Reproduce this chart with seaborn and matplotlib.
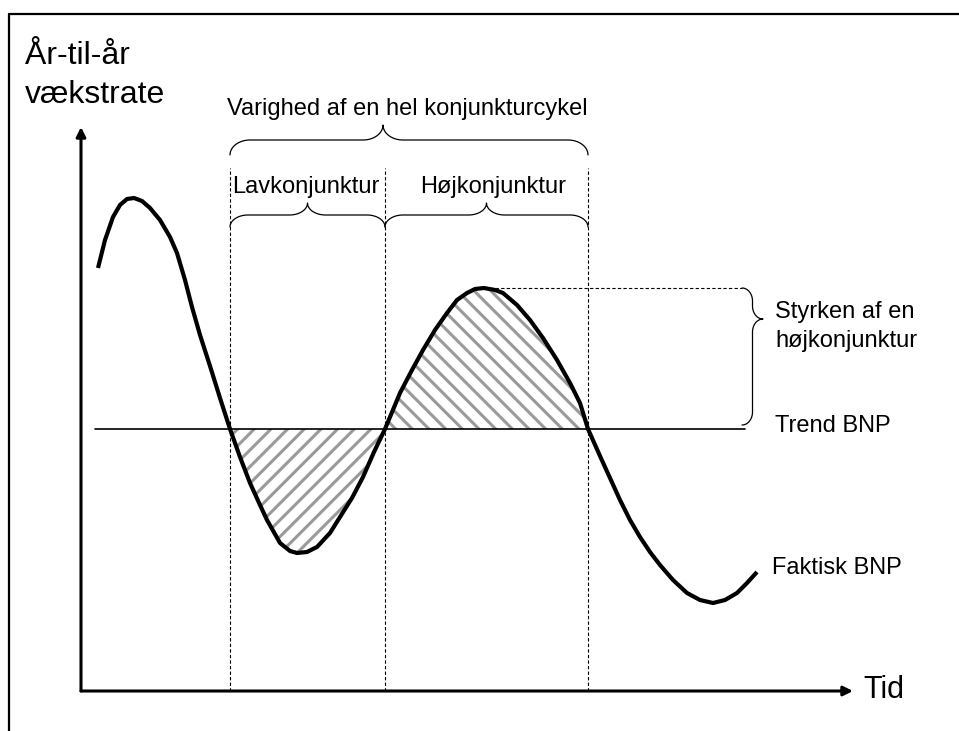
import numpy as np
import matplotlib
matplotlib.use("Agg")
import matplotlib.pyplot as plt
from matplotlib.lines import Line2D
import seaborn as sns

# Data: time (x) and year-on-year growth relative to trend (y)
tid = [1.7, 2.4, 3.2, 3.9, 4.6, 5.3, 6.1, 6.9, 7.9, 8.9, 9.6, 10.4, 11.1, 11.9,
       12.9, 13.9, 14.9, 15.9, 16.9, 17.9, 18.6, 19.9, 20.9, 21.6, 22.6, 23.6,
       24.9, 25.9, 27.1, 28.2, 29.3, 30.4, 31.9, 33.1, 34.2, 35.4, 36.6, 37.6,
       38.6, 39.4, 40.3, 41.4, 42.2, 43.6, 44.9, 46.2, 47.6, 48.9, 49.9, 50.7,
       51.9, 52.9, 53.9, 54.9, 55.9, 56.9, 57.9, 59.2, 60.6, 61.9, 63.2, 64.4,
       65.6, 66.6, 67.6]
faktisk_bnp = [16.1, 18.9, 21.2, 22.4, 23.0, 23.1, 22.8, 22.1, 20.9, 19.2, 17.6,
               14.9, 12.2, 9.4, 6.3, 3.1, 0.0, -2.8, -5.4, -7.6, -9.1, -11.4,
               -12.2, -12.4, -12.3, -11.8, -10.4, -8.8, -6.9, -4.8, -2.3, 0.0,
               3.6, 5.9, 7.9, 9.9, 11.6, 12.9, 13.6, 14.0, 14.1, 13.9, 13.6,
               12.4, 10.9, 9.1, 6.9, 4.6, 2.6, 0.0, -2.7, -4.9, -7.1, -9.1,
               -10.8, -12.3, -13.6, -15.1, -16.4, -17.1, -17.4, -17.1, -16.4,
               -15.4, -14.3]
trend_bnp = 0.0
trend_span = [1.4, 66.4]

# Turning points of the cycle (crossings with trend) and the boom peak
lav_start, lav_slut, hoj_slut = 14.9, 30.4, 50.7
top_tid, top_vaerdi = 40.3, 14.1

sns.set_theme(style="white")
plt.rcParams["font.family"] = ["Liberation Sans", "DejaVu Sans"]
plt.rcParams["text.color"] = "black"
plt.rcParams["hatch.linewidth"] = 2.2

fig = plt.figure(figsize=(9.59, 7.31), dpi=100)
ax = fig.add_axes([81 / 959, 1 - 691 / 731, 772 / 959, 564 / 731])
ax.set_xlim(0, 77.2)
ax.set_ylim(-26.2, 30.2)
ax.axis("off")

t = np.array(tid)
y = np.array(faktisk_bnp)

# Hatched areas
ax.fill_between(t, y, trend_bnp, where=(t >= lav_start) & (t <= lav_slut),
                facecolor="none", edgecolor="#9a9a9a", hatch="//", linewidth=0)
ax.fill_between(t, y, trend_bnp, where=(t >= lav_slut) & (t <= hoj_slut),
                facecolor="none", edgecolor="#9a9a9a", hatch="\\\\", linewidth=0)

# Trend line and actual GDP
ax.plot(trend_span, [trend_bnp, trend_bnp], color="black", lw=1.2)
sns.lineplot(x=tid, y=faktisk_bnp, color="black", lw=3, ax=ax,
             solid_joinstyle="round", solid_capstyle="butt")

# Dashed guides
ax.vlines([lav_start, lav_slut, hoj_slut], -26.2, 26.1, colors="black",
          linestyles=(0, (3, 2)), lw=0.8)
ax.plot([top_tid, 66.1], [top_vaerdi, top_vaerdi], color="black",
        ls=(0, (3, 2)), lw=0.8)

# Axes arrows
arrow = dict(arrowstyle="-|>", color="black", lw=2.2, mutation_scale=14,
             shrinkA=0, shrinkB=0)
ax.annotate("", xy=(0, 1), xytext=(0, 0), xycoords="axes fraction",
            textcoords="axes fraction", arrowprops=arrow)
ax.annotate("", xy=(1, 0), xytext=(0, 0), xycoords="axes fraction",
            textcoords="axes fraction", arrowprops=arrow)


def draw_brace(x0, x1, base, height, tip, rx=2.0, vertical=False):
    ry = height / 2
    a = np.linspace(0, np.pi / 2, 20)
    # left end
    p1x = x0 + rx * (1 - np.cos(a)); p1y = base + ry * np.sin(a)
    # into tip
    p2x = tip - rx + rx * np.sin(a); p2y = base + ry + ry * (1 - np.cos(a))
    # out of tip
    p3x = tip + rx * (1 - np.cos(a)); p3y = base + 2 * ry - ry * np.sin(a)
    # right end
    p4x = x1 - rx + rx * np.sin(a); p4y = base + ry * np.cos(a)
    xs = np.concatenate([p1x, p2x, p3x, p4x])
    ys = np.concatenate([p1y, p2y, p3y, p4y])
    if vertical:
        xs, ys = ys, xs
    ax.plot(xs, ys, color="black", lw=0.9, clip_on=False)


draw_brace(lav_start, hoj_slut, 27.4, 3.0, lav_slut - 0.2, rx=2.0)
draw_brace(lav_start, lav_slut, 20.2, 2.4, (lav_start + lav_slut) / 2, rx=1.8)
draw_brace(lav_slut, hoj_slut, 20.2, 2.4, (lav_slut + hoj_slut) / 2, rx=1.8)
# vertical brace: strength of the boom (trend up to peak)
draw_brace(0.4, top_vaerdi, 66.1, 2.1, 11.0, rx=1.3, vertical=True)

# Texts
ax.text(-5.6, 36.5, "År-til-år", fontsize=23, va="baseline", ha="left")
ax.text(-5.6, 32.6, "vækstrate", fontsize=23, va="baseline", ha="left")
ax.text(32.6, 31.4, "Varighed af en hel konjunkturcykel", fontsize=17,
        ha="center", va="baseline")
ax.text(22.5, 23.6, "Lavkonjunktur", fontsize=17, ha="center", va="baseline")
ax.text(41.25, 23.6, "Højkonjunktur", fontsize=17, ha="center", va="baseline")
ax.text(69.4, 11.1, "Styrken af en", fontsize=17, ha="left", va="baseline")
ax.text(69.4, 8.2, "højkonjunktur", fontsize=17, ha="left", va="baseline")
ax.text(69.4, -0.3, "Trend BNP", fontsize=17, ha="left", va="baseline")
ax.text(69.1, -14.5, "Faktisk BNP", fontsize=17, ha="left", va="baseline")
ax.text(78.2, -26.9, "Tid", fontsize=22, ha="left", va="baseline")

# Outer frame (cut off at right and bottom)
fig.add_artist(Line2D([9 / 959, 1], [1 - 14 / 731, 1 - 14 / 731],
                      transform=fig.transFigure, color="black", lw=1.6))
fig.add_artist(Line2D([9 / 959, 9 / 959], [0, 1 - 14 / 731],
                      transform=fig.transFigure, color="black", lw=1.6))

fig.savefig("out.png", dpi=100, facecolor="white")
